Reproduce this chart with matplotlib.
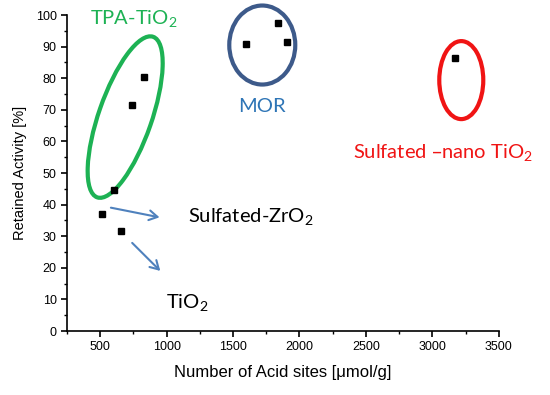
import numpy as np
import matplotlib.pyplot as plt
from matplotlib.patches import Ellipse
from matplotlib.transforms import ScaledTranslation
from matplotlib.ticker import MultipleLocator

# Catalyst data: acid sites vs. retained activity
tpa_x = [605, 740, 830]
tpa_y = [44.5, 71.5, 80.5]
mor_x = [1595, 1840, 1908]
mor_y = [90.8, 97.5, 91.5]
nano_x = [3173]
nano_y = [86.5]
zro2_x = [515]
zro2_y = [37.0]
tio2_x = [657]
tio2_y = [31.5]

# group outlines: center (data), width/height (inches), angle, colour
groups = [
    ((688, 67.7), 1.70, 0.53, 70.8, '#1DB254'),
    ((1720, 90.5), 0.66, 0.79, 0, '#3D5A8A'),
    ((3218, 79.4), 0.44, 0.78, 0, '#F01414'),
]

plt.rcParams['font.family'] = ['Liberation Sans', 'DejaVu Sans']
fig = plt.figure(figsize=(5.5, 3.95), dpi=100)
ax = fig.add_axes([0.1218, 0.162, 0.785, 0.8])

all_x = tpa_x + mor_x + nano_x + zro2_x + tio2_x
all_y = tpa_y + mor_y + nano_y + zro2_y + tio2_y
ax.plot(all_x, all_y, 's', color='black', markersize=5, zorder=3)

for (cx, cy), w, h, ang, col in groups:
    tr = fig.dpi_scale_trans + ScaledTranslation(cx, cy, ax.transData)
    ax.add_patch(Ellipse((0, 0), w, h, angle=ang, fill=False, edgecolor=col,
                         linewidth=3, transform=tr, clip_on=False))

ax.set_xlim(250, 3500)
ax.set_ylim(0, 100)
ax.xaxis.set_minor_locator(MultipleLocator(250))
ax.yaxis.set_major_locator(MultipleLocator(10))
ax.yaxis.set_minor_locator(MultipleLocator(5))
ax.set_xticks([500, 1000, 1500, 2000, 2500, 3000, 3500])
ax.spines['top'].set_visible(False)
ax.spines['right'].set_visible(False)
for s in ['left', 'bottom']:
    ax.spines[s].set_linewidth(1.2)
ax.tick_params(which='major', length=4, width=1.2, labelsize=9)
ax.tick_params(which='minor', length=2.5, width=1.0)

ax.set_xlabel('Number of Acid sites [\u03bcmol/g]', fontsize=12, labelpad=8)
ax.set_ylabel('Retained Activity [%]', fontsize=10.5, labelpad=6)

lab = ['Lato', 'DejaVu Sans']
fs = 14.5
ax.text(425, 98.7, r'TPA-TiO$_\mathregular{2}$', color='#1DB254', fontsize=fs, family=lab, va='center')
ax.text(1720, 70.9, 'MOR', color='#2E75B6', fontsize=fs, family=lab, va='center', ha='center')
ax.text(2405, 56.3, 'Sulfated \u2013nano TiO$_\\mathregular{2}$', color='#F01414', fontsize=fs, family=lab, va='center')
ax.text(1163, 36, r'Sulfated-ZrO$_\mathregular{2}$', color='black', fontsize=fs, family=lab, va='center')
ax.text(997, 8.9, r'TiO$_\mathregular{2}$', color='black', fontsize=fs, family=lab, va='center')

arrow_kw = dict(arrowstyle='->,head_length=0.6,head_width=0.35', color='#4F81BD', lw=1.5)
ax.annotate('', xy=(967, 35.8), xytext=(560, 39.2), arrowprops=arrow_kw)
ax.annotate('', xy=(967, 18.4), xytext=(726, 28.5), arrowprops=arrow_kw)

fig.savefig('out.png', dpi=100)
